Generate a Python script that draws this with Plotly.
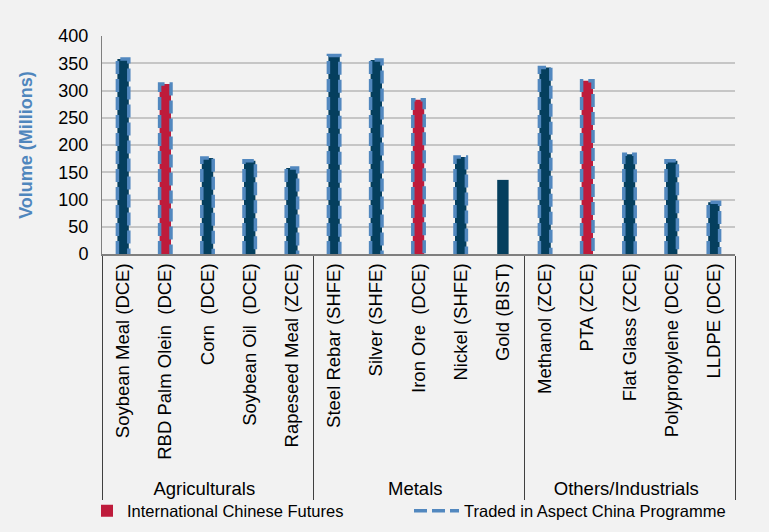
import plotly.graph_objects as go

groups = ["Agriculturals"] * 5 + ["Metals"] * 5 + ["Others/Industrials"] * 5
contracts = [
    "Soybean Meal (DCE)", "RBD Palm Olein \u00a0(DCE)", "Corn \u00a0(DCE)", "Soybean Oil \u00a0(DCE)", "Rapeseed Meal (ZCE)",
    "Steel Rebar (SHFE)", "Silver (SHFE)", "Iron Ore \u00a0(DCE)", "Nickel (SHFE)", "Gold (BIST)",
    "Methanol (ZCE)", "PTA (ZCE)", "Flat Glass (ZCE)", "Polypropylene (DCE)", "LLDPE (DCE)",
]
volume = [358, 312, 176, 171, 158, 364, 356, 283, 178, 136, 342, 318, 183, 171, 95]
international = [False, True, False, False, False, False, False, True, False, False, False, True, False, False, False]
in_aspect = [True, True, True, True, True, True, True, True, True, False, True, True, True, True, True]

NAVY = "#053f5e"
RED = "#be1b3b"
DASH = "#5288bf"
BAR_W = 0.27

fig = go.Figure()
fig.add_trace(go.Bar(
    x=[groups, contracts],
    y=[v if not f else None for v, f in zip(volume, international)],
    marker=dict(color=NAVY, line=dict(width=0)), width=BAR_W, showlegend=False,
))
fig.add_trace(go.Bar(
    x=[groups, contracts],
    y=[v if f else None for v, f in zip(volume, international)],
    marker=dict(color=RED, line=dict(width=0)), width=BAR_W,
    name="International Chinese Futures", legend="legend",
))

first = True
for i, (v, a) in enumerate(zip(volume, in_aspect)):
    if not a:
        continue
    xl, xr = i - BAR_W / 2, i + BAR_W / 2
    fig.add_trace(go.Scatter(
        x=[xl, xl, xr, xr], y=[0, v, v, 0], xaxis="x2", yaxis="y",
        mode="lines", line=dict(color=DASH, width=3.5, dash="13px,5px"),
        name="Traded in Aspect China Programme", legendgroup="aspect",
        legend="legend2", showlegend=first, hoverinfo="skip",
    ))
    first = False

font = "Liberation Sans, Arial, sans-serif"
leg_common = dict(orientation="h", yref="container", yanchor="middle", y=1 - 511 / 532,
                  xanchor="left", font=dict(size=16.5), bgcolor="rgba(0,0,0,0)")
fig.update_layout(
    width=769, height=532,
    margin=dict(l=102, r=34, t=36, b=278),
    paper_bgcolor="#f2f2f2", plot_bgcolor="#f2f2f2",
    barmode="overlay",
    font=dict(family=font, size=14, color="#000000"),
    xaxis=dict(
        type="multicategory", range=[-0.5, 14.5], tickangle=-90, automargin=False,
        showline=True, linecolor="#7f7f7f", linewidth=2,
        showgrid=False, ticks="", tickfont=dict(size=18.5),
        showdividers=True, dividercolor="#404040", dividerwidth=1,
    ),
    xaxis2=dict(overlaying="x", range=[-0.5, 14.5], visible=False),
    yaxis=dict(
        range=[0, 400], dtick=50, showline=True, linecolor="#7f7f7f", linewidth=1,
        gridcolor="#c6c6c6", gridwidth=1.5, zeroline=False, ticks="", automargin=False,
        tickfont=dict(size=18), ticklabelstandoff=9,
        title=dict(text="<b>Volume (Millions)</b>", font=dict(size=18, color="#4f86bd"), standoff=21),
    ),
    legend=dict(x=-0.0237, **leg_common),
    legend2=dict(x=0.485, itemwidth=45, **leg_common),
)

fig.write_html("out.html")
